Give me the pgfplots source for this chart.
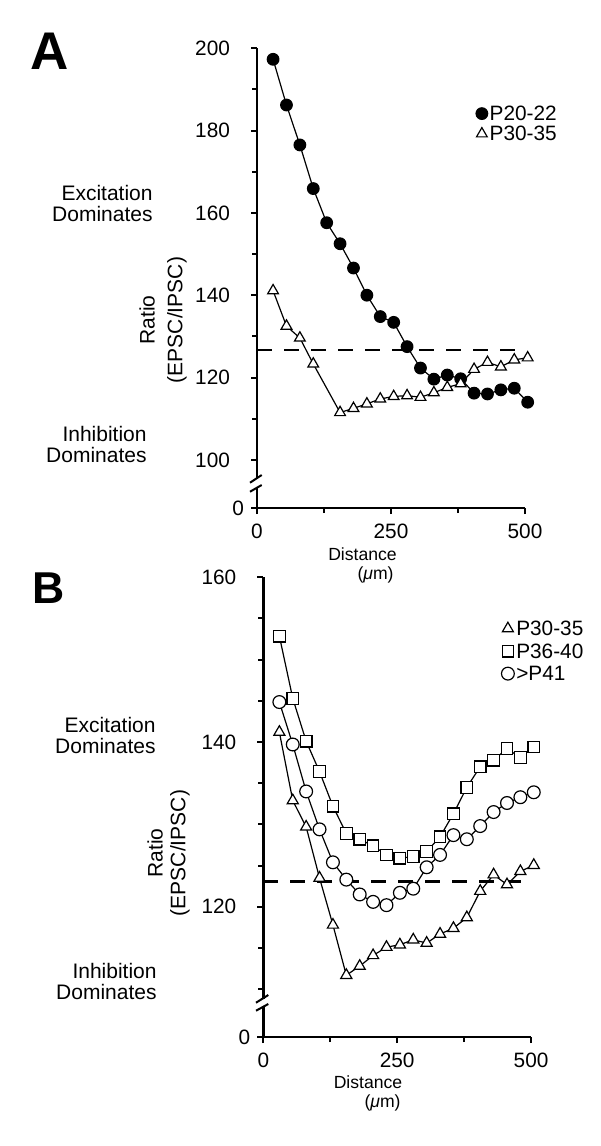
\documentclass[border=0pt]{standalone}
\usepackage{fontspec}
\setmainfont{Liberation Sans}
\usepackage{pgfplots}
\pgfplotsset{compat=1.18}
\pgfplotsset{
  panel/.style={
    scale only axis, axis lines=left, axis line style={-, line width=1.3pt},
    xmin=0, xmax=500, enlargelimits=false, clip=false,
    tick align=outside, major tick length=3pt, minor tick length=2.5pt,
    tick style={black, line width=1pt},
    xtick={0,250,500}, minor xtick={125,375},
    /pgf/number format/assume math mode=true,
    ticklabel style={font=\fontsize{10.4}{12}\selectfont},
    yticklabel style={xshift=-7pt},
    xticklabel style={yshift=-1.5pt},
    extra y tick style={yticklabel style={xshift=7pt}},
    legend cell align=left,
    legend image code/.code={\path[##1] plot coordinates {(0pt,0pt)};},
  },
  dat/.style={black, line width=0.6pt, mark options={solid, line width=0.7pt}},
}
\begin{document}
\begin{tikzpicture}
\path[use as bounding box] (0pt,0pt) rectangle (300pt,-573pt);

% ---------- Panel A ----------
\begin{axis}[panel, at={(128.5pt,-254pt)}, anchor=south west,
  width=134pt, height=229.9pt, ymin=88.3, ymax=200,
  ytick={100,120,...,200}, minor ytick={110,130,...,190},
  extra y ticks={88.3}, extra y tick labels={0},
  legend style={draw=none, fill=none, at={(0.816,0.8806)}, anchor=north west,
    inner sep=0pt, row sep=0pt, font=\fontsize{10.4}{12}\selectfont,
    nodes={inner sep=1pt, text height=7.6pt, text depth=0.5pt}}]
\addplot[dat, mark=*, mark size=2.9pt, mark options={fill=black}] table {
x y
30 197.3
55 186.2
80 176.5
105 165.9
130 157.6
155 152.5
180 146.6
205 140.0
230 134.8
255 133.4
280 127.5
305 122.3
330 119.6
355 120.6
380 119.7
405 116.2
430 116.0
455 117.0
480 117.4
505 114.0
};
\addlegendentry{P20-22}
\addplot[dat, mark=triangle*, mark size=3.1pt, mark options={fill=white}] table {
x y
30 141.1
55 132.5
80 129.6
105 123.3
155 111.5
180 112.5
205 113.6
230 114.8
255 115.4
280 115.6
305 115.2
330 116.3
355 117.6
380 118.5
405 122.0
430 123.7
455 122.6
480 124.3
505 124.8
};
\addlegendentry{P30-35}
\addplot[black, line width=1.4pt, dash pattern=on 7.5pt off 6pt, forget plot] coordinates {(0,126.7) (487,126.7)};
\end{axis}
% axis break A
\fill[white] (126pt,-239.6pt) rectangle (131pt,-243.9pt);
\draw[line width=1pt] (125pt,-241.35pt) -- (130.85pt,-237.5pt);
\draw[line width=1pt] (125pt,-245.85pt) -- (130.85pt,-242.5pt);

\node[font=\fontsize{26.5}{28}\selectfont\bfseries, inner sep=0pt] at (25pt,-25.5pt) {A};
\node[anchor=east, align=right, font=\fontsize{10.5}{10.5}\selectfont, inner sep=0pt] at (76.5pt,-101.75pt) {Excitation\\Dominates};
\node[anchor=east, align=right, font=\fontsize{10.5}{10.5}\selectfont, inner sep=0pt] at (73.5pt,-222pt) {Inhibition\\Dominates};
\node[rotate=90, font=\fontsize{10.5}{12}\selectfont, inner sep=0pt] at (73.5pt,-160pt) {Ratio};
\node[rotate=90, font=\fontsize{10.5}{12}\selectfont, inner sep=0pt] at (88.5pt,-160pt) {(EPSC/IPSC)};
\node[font=\fontsize{8.8}{10}\selectfont, inner sep=0pt] at (181.25pt,-277.3pt) {Distance};
\node[anchor=east, font=\fontsize{8.8}{10}\selectfont, inner sep=0pt] at (197pt,-287.6pt) {({\itshape μ}m)};

% ---------- Panel B ----------
\begin{axis}[panel, at={(131.65pt,-518.5pt)}, anchor=south west,
  width=133.9pt, height=229.9pt, ymin=104.2, ymax=160,
  ytick={120,140,160}, minor ytick={110,115,125,130,135,145,150,155},
  extra y ticks={104.2}, extra y tick labels={0},
  legend style={draw=none, fill=none, at={(0.888,0.911)}, anchor=north west,
    inner sep=0pt, row sep=1.15pt, font=\fontsize{10.4}{12}\selectfont,
    nodes={inner sep=1pt, text height=7.6pt, text depth=0.5pt}}]
\addplot[dat, mark=triangle*, mark size=3.2pt, mark options={fill=white}] table {
x y
30 141.2
55 132.9
80 129.7
105 123.5
130 117.8
155 111.7
180 112.8
205 114.1
230 115.1
255 115.4
280 116.0
305 115.6
330 116.7
355 117.4
380 118.7
405 121.9
430 123.9
455 122.7
480 124.3
505 125.05
};
\addlegendentry{P30-35}
\addplot[dat, mark=square*, mark size=2.9pt, mark options={fill=white}] table {
x y
30 152.85
55 145.3
80 140.1
105 136.4
130 132.2
155 128.9
180 128.2
205 127.4
230 126.3
255 125.9
280 126.1
305 126.7
330 128.5
355 131.3
380 134.5
405 137.0
430 137.8
455 139.2
480 138.1
505 139.4
};
\addlegendentry{P36-40}
\addplot[dat, mark=*, mark size=3.2pt, mark options={fill=white}] table {
x y
30 144.85
55 139.7
80 134.0
105 129.4
130 125.4
155 123.3
180 121.5
205 120.6
230 120.2
255 121.7
280 122.2
305 124.8
330 126.3
355 128.7
380 128.2
405 129.8
430 131.5
455 132.6
480 133.3
505 133.9
};
\addlegendentry{>P41}
\addplot[black, line width=1.4pt, dash pattern=on 7.5pt off 6pt, forget plot] coordinates {(0,123.1) (489,123.1)};
\end{axis}
% axis break B
\fill[white] (129.5pt,-499.4pt) rectangle (134.2pt,-503.5pt);
\draw[line width=1pt] (128pt,-501.35pt) -- (134.15pt,-497.5pt);
\draw[line width=1pt] (128pt,-505.35pt) -- (134.15pt,-502pt);

\node[font=\fontsize{22.3}{24}\selectfont\bfseries, inner sep=0pt] at (24.25pt,-294pt) {B};
\node[anchor=east, align=right, font=\fontsize{10.5}{10.5}\selectfont, inner sep=0pt] at (78pt,-367.75pt) {Excitation\\Dominates};
\node[anchor=east, align=right, font=\fontsize{10.5}{10.5}\selectfont, inner sep=0pt] at (78.5pt,-490.75pt) {Inhibition\\Dominates};
\node[rotate=90, font=\fontsize{10.5}{12}\selectfont, inner sep=0pt] at (77.5pt,-426.5pt) {Ratio};
\node[rotate=90, font=\fontsize{10.5}{12}\selectfont, inner sep=0pt] at (90pt,-426.5pt) {(EPSC/IPSC)};
\node[font=\fontsize{8.8}{10}\selectfont, inner sep=0pt] at (184pt,-541.3pt) {Distance};
\node[anchor=east, font=\fontsize{8.8}{10}\selectfont, inner sep=0pt] at (200.5pt,-551.6pt) {({\itshape μ}m)};
\end{tikzpicture}
\end{document}
